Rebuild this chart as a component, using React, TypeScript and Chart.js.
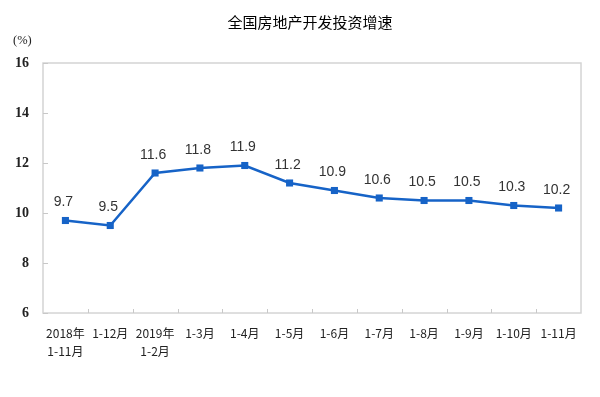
import React, { useEffect, useRef } from "react";
import { Chart, registerables } from "chart.js";

Chart.register(...registerables);

const TITLE = "全国房地产开发投资增速";
const UNIT = "(%)";
const categories: (string | string[])[] = [
  ["2018年", "1-11月"],
  "1-12月",
  ["2019年", "1-2月"],
  "1-3月",
  "1-4月",
  "1-5月",
  "1-6月",
  "1-7月",
  "1-8月",
  "1-9月",
  "1-10月",
  "1-11月",
];
const growth: number[] = [9.7, 9.5, 11.6, 11.8, 11.9, 11.2, 10.9, 10.6, 10.5, 10.5, 10.3, 10.2];
const yTicks: number[] = [6, 8, 10, 12, 14, 16];

const decorPlugin = {
  id: "decor",
  beforeDatasetsDraw(chart: any) {
    const { ctx, chartArea } = chart;
    const { left, right, top, bottom } = chartArea;
    ctx.save();
    ctx.strokeStyle = "#d4d4d4";
    ctx.lineWidth = 1.5;
    ctx.strokeRect(left, top, right - left, bottom - top);
    // inner tick marks
    ctx.strokeStyle = "#c8c8c8";
    ctx.lineWidth = 1;
    const ys = chart.scales.y;
    yTicks.forEach((v) => {
      const py = Math.round(ys.getPixelForValue(v)) + 0.5;
      ctx.beginPath();
      ctx.moveTo(left, py);
      ctx.lineTo(left + 5, py);
      ctx.stroke();
    });
    const xs = chart.scales.x;
    const n = categories.length;
    for (let i = 1; i < n; i++) {
      const px = Math.round((xs.getPixelForValue(i - 1) + xs.getPixelForValue(i)) / 2) + 0.5;
      ctx.beginPath();
      ctx.moveTo(px, bottom);
      ctx.lineTo(px, bottom - 4);
      ctx.stroke();
    }
    ctx.restore();
  },
  afterDatasetsDraw(chart: any) {
    const { ctx } = chart;
    ctx.save();
    // title
    ctx.fillStyle = "#000";
    ctx.font = '15px "Noto Sans CJK SC"';
    ctx.textAlign = "center";
    ctx.textBaseline = "middle";
    ctx.fillText(TITLE, 310, 22);
    ctx.fillStyle = "#222";
    ctx.font = '12.5px "Liberation Serif", "Noto Sans CJK SC"';
    ctx.textAlign = "left";
    ctx.fillText(UNIT, 13, 41);
    // data labels
    const meta = chart.getDatasetMeta(0);
    ctx.fillStyle = "#333";
    ctx.font = '14px "Liberation Sans"';
    ctx.textAlign = "center";
    meta.data.forEach((pt: any, i: number) => {
      ctx.fillText(String(growth[i]), pt.x - 2, pt.y - 18);
    });
    ctx.restore();
  },
};

export default function App() {
  const ref = useRef<HTMLCanvasElement | null>(null);
  useEffect(() => {
    if (!ref.current) return;
    const chart = new Chart(ref.current, {
      type: "line",
      data: {
        labels: categories,
        datasets: [
          {
            data: growth,
            borderColor: "#1663c7",
            backgroundColor: "#1663c7",
            borderWidth: 2.5,
            pointStyle: "rect",
            pointRadius: 5,
            pointBorderWidth: 0,
            pointBackgroundColor: "#1663c7",
            tension: 0,
          },
        ],
      },
      options: {
        animation: false,
        responsive: false,
        devicePixelRatio: 1,
        layout: { padding: { top: 63, right: 19, left: 0, bottom: 0 } },
        plugins: { legend: { display: false }, tooltip: { enabled: false }, title: { display: false } },
        scales: {
          x: {
            offset: true,
            grid: { display: false },
            border: { display: false },
            afterFit: (s: any) => {
              s.height = 84;
            },
            ticks: {
              autoSkip: false,
              maxRotation: 0,
              padding: 3,
              color: "#222",
              font: { family: '"Noto Sans CJK SC"', size: 12, lineHeight: 1.55 },
            },
          },
          y: {
            min: 6,
            max: 16,
            grid: { display: false },
            border: { display: false },
            afterFit: (s: any) => {
              s.width = 43;
            },
            afterBuildTicks: (s: any) => {
              s.ticks = yTicks.map((v) => ({ value: v }));
            },
            ticks: {
              padding: 6,
              color: "#222",
              font: { family: '"Liberation Serif"', size: 14, weight: "bold" },
            },
          },
        },
      },
      plugins: [decorPlugin],
    });
    return () => chart.destroy();
  }, []);
  return (
    <div style={{ position: "fixed", left: 0, top: 0, width: 600, height: 397, background: "#fff" }}>
      <canvas ref={ref} width={600} height={397} />
    </div>
  );
}
